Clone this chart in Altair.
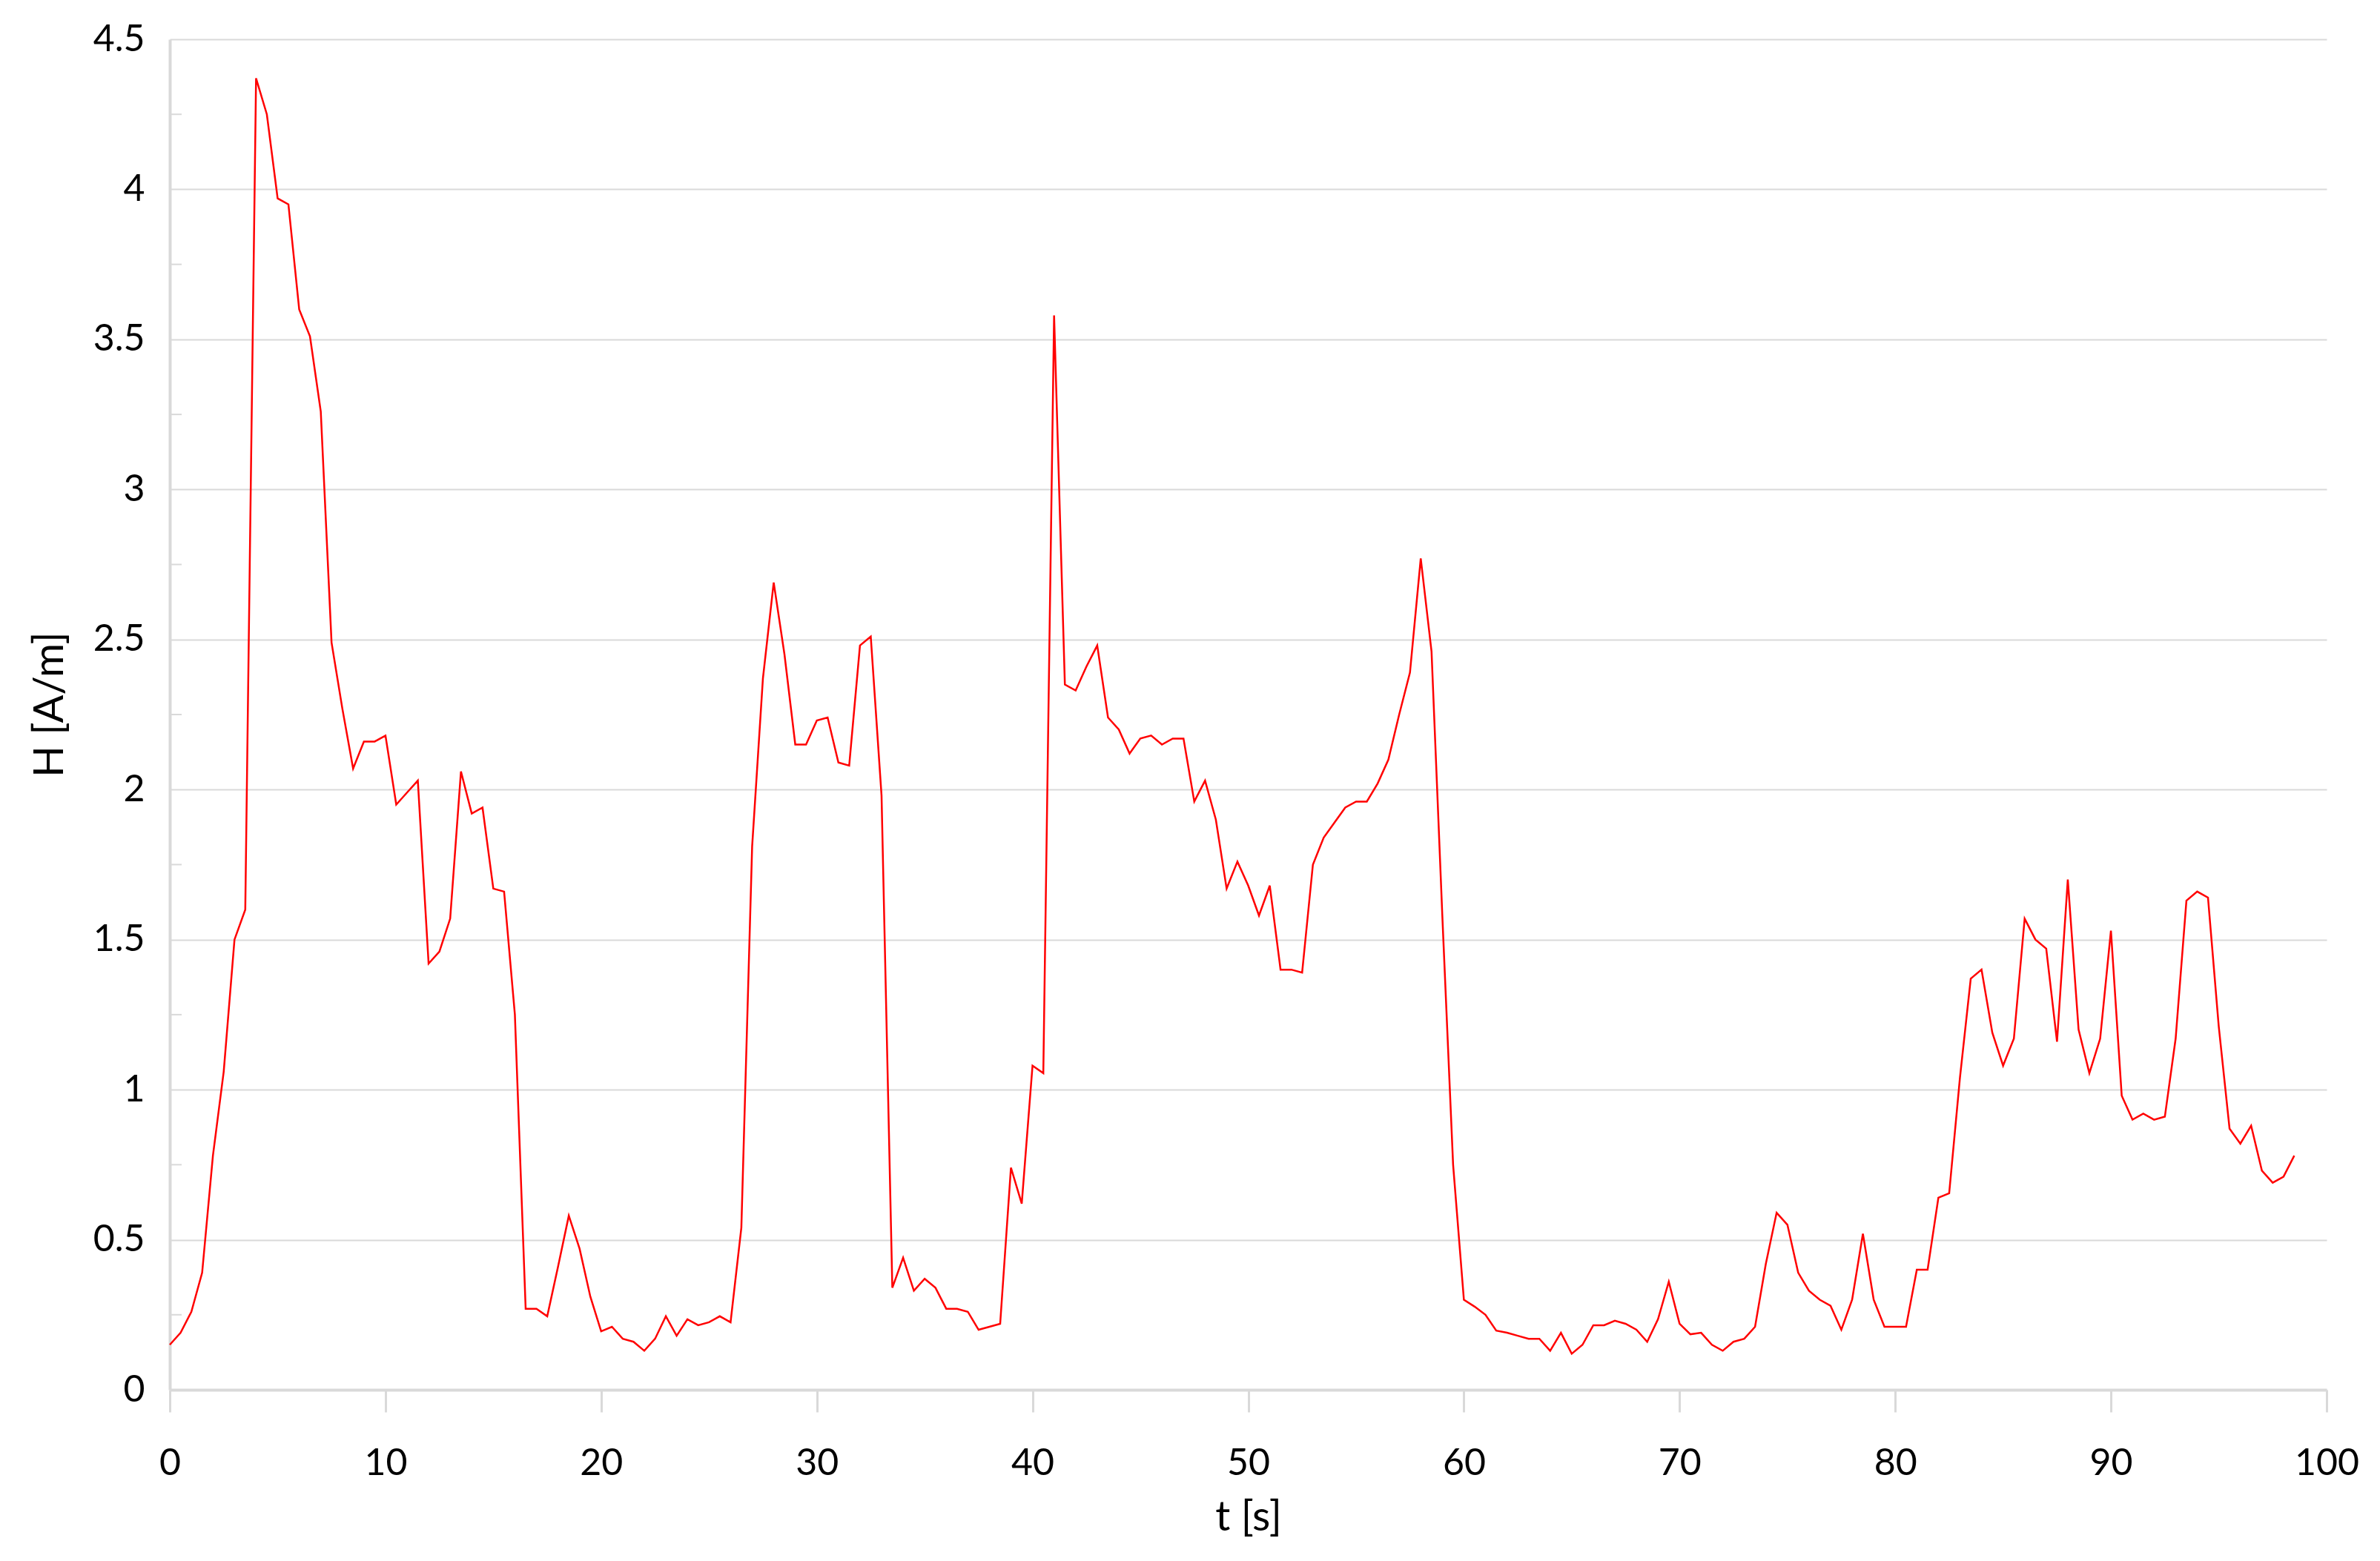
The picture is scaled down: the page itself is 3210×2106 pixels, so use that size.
import altair as alt
import pandas as pd

# H [A/m] sampled every 0.5 s, split in 10-second blocks
STEP = 0.5
h_00_10 = [0.15, 0.19, 0.26, 0.39, 0.78, 1.06, 1.50, 1.60, 4.37, 4.25,
           3.97, 3.95, 3.60, 3.51, 3.26, 2.49, 2.27, 2.07, 2.16, 2.16]
h_10_20 = [2.18, 1.95, 1.99, 2.03, 1.42, 1.46, 1.57, 2.06, 1.92, 1.94,
           1.67, 1.66, 1.25, 0.27, 0.27, 0.245, 0.41, 0.58, 0.47, 0.31]
h_20_30 = [0.195, 0.21, 0.17, 0.16, 0.13, 0.17, 0.245, 0.18, 0.235, 0.215,
           0.225, 0.245, 0.225, 0.54, 1.81, 2.37, 2.69, 2.45, 2.15, 2.15]
h_30_40 = [2.23, 2.24, 2.09, 2.08, 2.48, 2.51, 1.98, 0.34, 0.44, 0.33,
           0.37, 0.34, 0.27, 0.27, 0.26, 0.20, 0.21, 0.22, 0.74, 0.62]
h_40_50 = [1.08, 1.055, 3.58, 2.35, 2.33, 2.41, 2.48, 2.24, 2.20, 2.12,
           2.17, 2.18, 2.15, 2.17, 2.17, 1.96, 2.03, 1.90, 1.67, 1.76]
h_50_60 = [1.68, 1.58, 1.68, 1.40, 1.40, 1.39, 1.75, 1.84, 1.89, 1.94,
           1.96, 1.96, 2.02, 2.10, 2.25, 2.39, 2.77, 2.46, 1.58, 0.75]
h_60_70 = [0.30, 0.277, 0.25, 0.197, 0.19, 0.18, 0.17, 0.17, 0.13, 0.19,
           0.12, 0.15, 0.215, 0.215, 0.23, 0.22, 0.20, 0.16, 0.235, 0.36]
h_70_80 = [0.22, 0.185, 0.19, 0.15, 0.13, 0.16, 0.17, 0.21, 0.42, 0.59,
           0.55, 0.39, 0.33, 0.30, 0.28, 0.20, 0.30, 0.52, 0.30, 0.21]
h_80_90 = [0.21, 0.21, 0.40, 0.40, 0.64, 0.655, 1.04, 1.37, 1.40, 1.19,
           1.08, 1.17, 1.57, 1.50, 1.47, 1.16, 1.70, 1.20, 1.055, 1.17]
h_90_99 = [1.53, 0.98, 0.90, 0.92, 0.90, 0.91, 1.17, 1.63, 1.66, 1.64,
           1.21, 0.87, 0.82, 0.88, 0.73, 0.69, 0.71, 0.78]

x_ticks = [0, 10, 20, 30, 40, 50, 60, 70, 80, 90, 100]
y_ticks = [0, 0.5, 1, 1.5, 2, 2.5, 3, 3.5, 4, 4.5]
y_minor = [0.25, 0.75, 1.25, 1.75, 2.25, 2.75, 3.25, 3.75, 4.25]

H = (h_00_10 + h_10_20 + h_20_30 + h_30_40 + h_40_50 + h_50_60 +
     h_60_70 + h_70_80 + h_80_90 + h_90_99)
t = [i * STEP for i in range(len(H))]
df = pd.DataFrame({"t": t, "H": H})
minor_df = pd.DataFrame({"H": y_minor})

FONT = "Lato"
GRID = "#d9d9d9"

xscale = alt.Scale(domain=[0, 100], nice=False, zero=False)
yscale = alt.Scale(domain=[0, 4.5], nice=False)

line = alt.Chart(df).mark_line(color="#ff0000", strokeWidth=2.5).encode(
    x=alt.X("t:Q", scale=xscale,
            axis=alt.Axis(values=x_ticks, grid=False, title="t [s]",
                          domainColor=GRID, domainWidth=4,
                          tickColor=GRID, tickWidth=3, tickSize=30,
                          labelFlush=False,
                          labelPadding=44, labelFontSize=50, labelFont=FONT,
                          labelColor="#000000", titleFont=FONT,
                          titleFontSize=56, titleFontWeight="normal",
                          titleColor="#000000", titleY=172,
                          titleBaseline="middle", format="d")),
    y=alt.Y("H:Q", scale=yscale,
            axis=alt.Axis(values=y_ticks, grid=True, gridColor=GRID,
                          gridWidth=2, ticks=False, title="H [A/m]",
                          domainColor=GRID, domainWidth=4, format="~g",
                          labelFlush=False,
                          labelPadding=34, labelFontSize=50, labelFont=FONT,
                          labelColor="#000000", titleFont=FONT,
                          titleFontSize=56, titleFontWeight="normal",
                          titleColor="#000000", titleAngle=270,
                          titleX=-162, titleY=897, titleAlign="center",
                          titleBaseline="middle")),
)

minor = alt.Chart(minor_df).mark_rule(color=GRID, strokeWidth=2).encode(
    y=alt.Y("H:Q", scale=yscale),
    x=alt.value(0),
    x2=alt.value(16),
)

chart = alt.layer(minor, line).properties(
    width=2909,
    height=1822,
    autosize=alt.AutoSizeParams(type="none"),
    padding={"left": 221, "top": 45, "right": 60, "bottom": 225},
    background="white",
).configure_view(strokeWidth=0)

chart.save("out.html", embed_options={"renderer": "svg", "actions": False})
